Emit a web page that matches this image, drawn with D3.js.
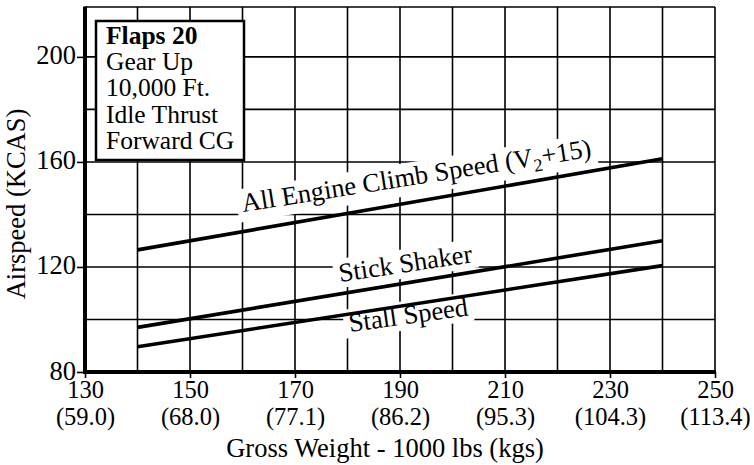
<!DOCTYPE html>
<html>
<head>
<meta charset="utf-8">
<script src="https://cdn.jsdelivr.net/npm/d3@7"></script>
<style>
  html, body { margin: 0; padding: 0; background: #fff; }
  svg { display: block; }
  text { font-family: "Liberation Serif", "Times New Roman", serif; fill: #000; }
</style>
</head>
<body>
<svg id="chart" width="754" height="465"></svg>
<script>
// Gross weight (1000 lbs) at the ends of each speed line
const weights = [140, 240];
// Airspeeds (KCAS)
const climbSpeed = [126.5, 161.2];
const stickShaker = [97, 130];
const stallSpeed = [89.6, 120.5];

// Axis ticks and labels
const xTicks = [130, 150, 170, 190, 210, 230, 250];
const kgLabels = ["(59.0)", "(68.0)", "(77.1)", "(86.2)", "(95.3)", "(104.3)", "(113.4)"];
const yTicks = [80, 120, 160, 200];
const xGrid = [140, 150, 160, 170, 180, 190, 200, 210, 220, 230, 240, 250];
const yGrid = [100, 120, 140, 160, 180, 200];

const conditions = ["Flaps 20", "Gear Up", "10,000 Ft.", "Idle Thrust", "Forward CG"];

const svg = d3.select("#chart");
const plot = { left: 85, right: 715, top: 7, bottom: 372 };
const serif = "Liberation Serif, Times New Roman, serif";

const x = d3.scaleLinear().domain([130, 250]).range([plot.left, plot.right]);
const y = d3.scaleLinear().domain([80, 219]).range([plot.bottom, plot.top]);

// Grid
const grid = svg.append("g").attr("stroke", "#000").attr("stroke-width", 1.6);
grid.selectAll("line.v").data(xGrid).join("line").attr("class", "v")
  .attr("x1", d => x(d)).attr("x2", d => x(d))
  .attr("y1", plot.top).attr("y2", plot.bottom);
grid.selectAll("line.h").data(yGrid).join("line").attr("class", "h")
  .attr("x1", plot.left).attr("x2", plot.right)
  .attr("y1", d => y(d)).attr("y2", d => y(d));
grid.append("line").attr("x1", plot.left).attr("x2", plot.right).attr("y1", plot.top).attr("y2", plot.top);

// Axes
const xAxis = svg.append("g")
  .attr("transform", `translate(0,${plot.bottom})`)
  .call(d3.axisBottom(x).tickValues(xTicks).tickSize(6).tickPadding(4).tickFormat(d3.format("d")));
xAxis.select(".domain").remove();
xAxis.selectAll(".tick line").attr("stroke", "#000").attr("stroke-width", 1.6);
xAxis.selectAll(".tick text")
  .attr("font-size", 24.5)
  .attr("font-family", serif)
  .attr("dy", null).attr("y", 26);
// Second row: weight in thousands of kg
xAxis.selectAll(".tick").append("text")
  .attr("fill", "#000")
  .attr("font-size", 24.5)
  .attr("font-family", serif)
  .attr("text-anchor", "middle")
  .attr("y", 53.3)
  .text((d, i) => kgLabels[i]);

const yAxis = svg.append("g")
  .attr("transform", `translate(${plot.left},0)`)
  .call(d3.axisLeft(y).tickValues(yTicks).tickSize(8).tickPadding(1).tickFormat(d3.format("d")));
yAxis.select(".domain").remove();
yAxis.selectAll(".tick line").attr("stroke", "#000").attr("stroke-width", 1.6);
yAxis.selectAll(".tick text")
  .attr("font-size", 26.5)
  .attr("font-family", serif)
  .attr("dy", 7);

// Thick axis lines
svg.append("line").attr("x1", plot.left).attr("x2", plot.left).attr("y1", plot.top - 0.5).attr("y2", plot.bottom + 2)
  .attr("stroke", "#000").attr("stroke-width", 4);
svg.append("line").attr("x1", plot.left - 2).attr("x2", plot.right + 1).attr("y1", plot.bottom).attr("y2", plot.bottom)
  .attr("stroke", "#000").attr("stroke-width", 4);

// Axis titles
svg.append("text")
  .attr("x", 385).attr("y", 457)
  .attr("text-anchor", "middle").attr("font-size", 26.5)
  .text("Gross Weight - 1000 lbs (kgs)");
svg.append("text")
  .attr("transform", "translate(25,204) rotate(-90)")
  .attr("text-anchor", "middle").attr("font-size", 26.5)
  .text("Airspeed (KCAS)");

// Labels with white backing (drawn under the speed lines)
const labelLayer = svg.append("g");
const lineLayer = svg.append("g");
const textLayer = svg.append("g");

function label(px, py, angle, build) {
  const g = textLayer.append("g").attr("transform", `translate(${px},${py}) rotate(${angle})`);
  const t = g.append("text").attr("font-size", 26.5);
  build(t);
  const b = t.node().getBBox();
  labelLayer.append("rect")
    .attr("transform", `translate(${px},${py}) rotate(${angle})`)
    .attr("x", b.x - 5).attr("y", b.y + 1).attr("width", b.width + 10).attr("height", b.height - 1)
    .attr("fill", "#fff");
}

label(243, 212, -9, t => {
  t.append("tspan").text("All Engine Climb Speed (V");
  t.append("tspan").attr("font-size", 18).attr("dy", 6).text("2");
  t.append("tspan").attr("dy", -6).text("+15)");
});
label(340, 282, -8.5, t => t.text("Stick Shaker"));
label(350, 332, -8, t => t.text("Stall Speed"));

// Speed lines
const line = d3.line().x(d => x(d[0])).y(d => y(d[1]));
[climbSpeed, stickShaker, stallSpeed].forEach(s => {
  lineLayer.append("path")
    .datum(weights.map((w, i) => [w, s[i]]))
    .attr("d", line)
    .attr("fill", "none").attr("stroke", "#000").attr("stroke-width", 3.6);
});

// Conditions box
const box = svg.append("g");
box.append("rect")
  .attr("x", 96).attr("y", 21).attr("width", 148).attr("height", 139)
  .attr("fill", "#fff").attr("stroke", "#000").attr("stroke-width", 2.5);
box.selectAll("text").data(conditions).join("text")
  .attr("x", 106)
  .attr("y", (d, i) => 43.5 + i * 26.4)
  .attr("font-size", 25.5)
  .attr("font-weight", (d, i) => i === 0 ? "bold" : "normal")
  .text(d => d);
</script>
</body>
</html>
